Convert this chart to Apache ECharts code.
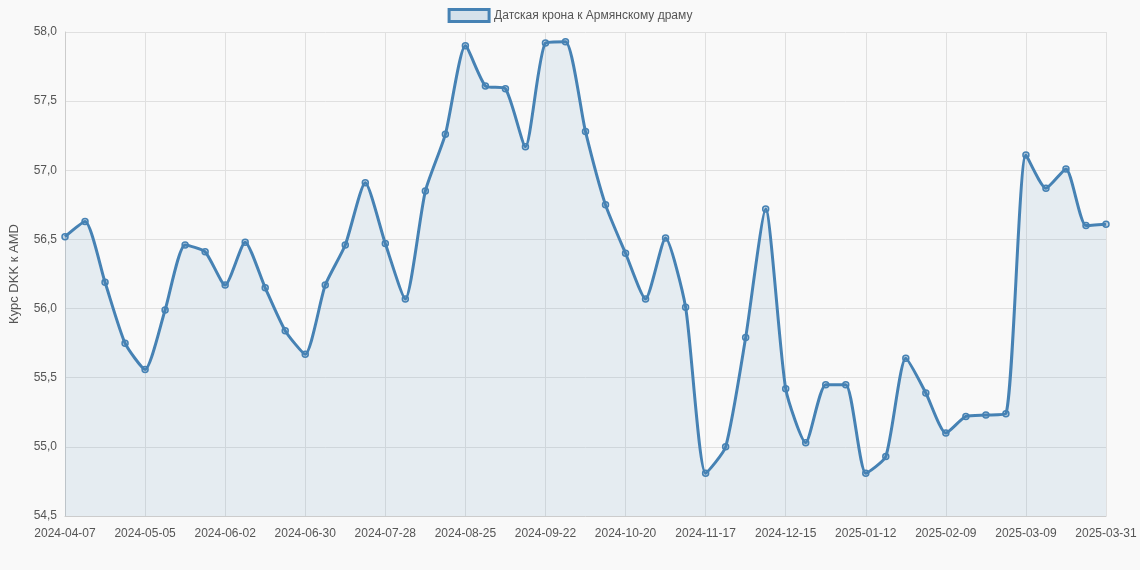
<!DOCTYPE html>
<html><head><meta charset="utf-8">
<script src="https://cdn.jsdelivr.net/npm/echarts@6/dist/echarts.min.js"></script>
<style>html,body{margin:0;background:#f9f9f9}#c{width:1140px;height:570px}</style>
</head><body><div id="c"></div>
<script>
// недельные даты, последняя точка 2025-03-31
var dates = [];
var d0 = new Date(Date.UTC(2024, 3, 7));
for (var i = 0; i < 52; i++) {
    dates.push(new Date(d0.getTime() + i * 7 * 864e5).toISOString().slice(0, 10));
}
dates.push('2025-03-31');

var rates = [56.52,56.63,56.19,55.75,55.56,55.99,56.46,56.41,56.17,56.48,
    56.15,55.84,55.67,56.17,56.46,56.91,56.47,56.07,56.85,57.26,
    57.90,57.61,57.59,57.17,57.92,57.93,57.28,56.75,56.40,56.07,
    56.51,56.01,54.81,55.00,55.79,56.72,55.42,55.03,55.45,55.45,
    54.81,54.93,55.64,55.39,55.10,55.22,55.23,55.24,57.11,56.87,
    57.01,56.60,56.61];

var chart = echarts.init(document.getElementById('c'));
chart.setOption({
    backgroundColor: '#f9f9f9',
    textStyle: {fontFamily: 'Arial, Liberation Sans'},
    legend: {
        top: 3, itemWidth: 40, itemHeight: 12,
        icon: 'rect',
        textStyle: {color: '#555', fontSize: 12},
        data: [{name: 'Датская крона к Армянскому драму',
            itemStyle: {color: 'rgba(70,130,180,0.2)', borderColor: '#4682b4', borderWidth: 3}}]
    },
    grid: {left: 59, right: 34, top: 32, bottom: 54},
    xAxis: {
        type: 'category', data: dates, boundaryGap: false,
        axisLine: {lineStyle: {color: '#ccc'}},
        axisTick: {show: false},
        axisLabel: {interval: 3, color: '#555', fontSize: 12, margin: 12},
        splitLine: {show: true, interval: 3, lineStyle: {color: '#e0e0e0'}}
    },
    yAxis: {
        type: 'value', min: 54.5, max: 58, interval: 0.5,
        name: 'Курс DKK к AMD', nameLocation: 'middle', nameGap: 44,
        nameTextStyle: {color: '#555', fontSize: 13},
        axisLine: {show: true, lineStyle: {color: '#ccc'}},
        axisLabel: {color: '#555', fontSize: 12,
            formatter: function (v) { return v.toFixed(1).replace('.', ','); }},
        splitLine: {lineStyle: {color: '#e0e0e0'}}
    },
    series: [{
        name: 'Датская крона к Армянскому драму',
        type: 'line', data: rates, smooth: 0.2,
        symbol: 'circle', symbolSize: 6,
        lineStyle: {color: '#4682b4', width: 3},
        itemStyle: {color: 'rgba(70,130,180,0.3)', borderColor: '#4682b4', borderWidth: 1.5},
        areaStyle: {color: 'rgba(70,130,180,0.15)'}
    }]
});
</script></body></html>
